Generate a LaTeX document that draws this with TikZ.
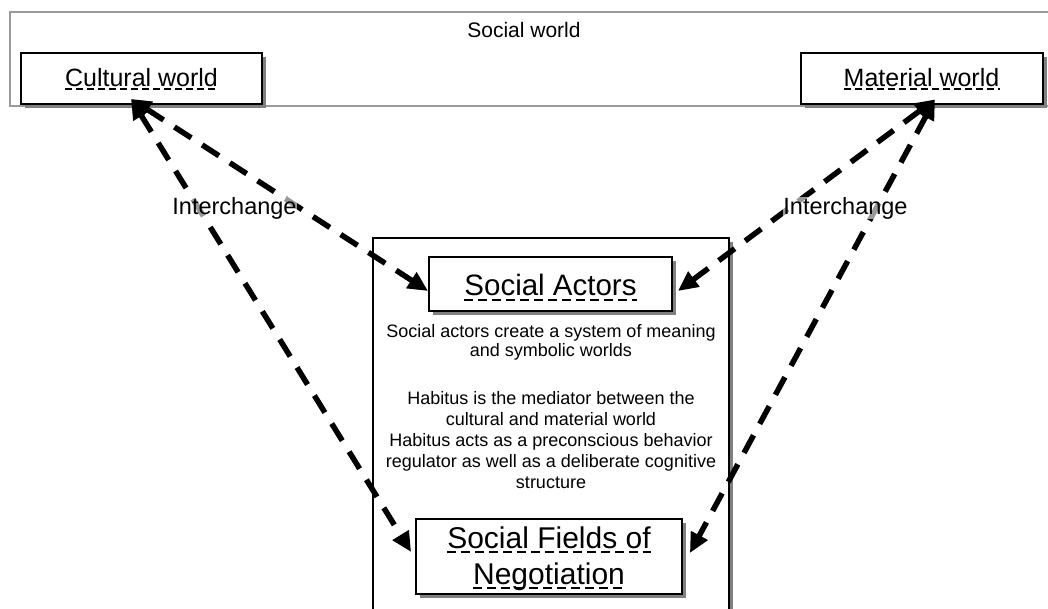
\documentclass[tikz,border=0pt]{standalone}
\usepackage{fontspec}
\setmainfont{Liberation Sans}
\usetikzlibrary{arrows.meta,shadows}
\definecolor{shadowgray}{HTML}{808080}
\definecolor{outergray}{HTML}{9A9A9A}
\begin{document}
\begin{tikzpicture}[x=1pt,y=-1pt,
  box/.style={draw=black,line width=1.8pt,fill=white,inner sep=0pt,
    drop shadow={shadow xshift=4pt,shadow yshift=-4pt,fill=shadowgray,opacity=1}},
  txt/.style={inner sep=0pt,anchor=base},
  ulsmall/.style={line width=1.5pt,dash pattern=on 7pt off 4pt},
  ulbig/.style={line width=1.7pt,dash pattern=on 9pt off 5pt},
  link/.style={line width=5.5pt,dash pattern=on 20pt off 13pt,
    {Triangle[length=20pt,width=18pt]}-{Triangle[length=20pt,width=18pt]}},
  f25/.style={font=\fontsize{25}{30}\selectfont},
  f30/.style={font=\fontsize{30}{36}\selectfont},
  f18/.style={font=\fontsize{18}{21}\selectfont},
  f21/.style={font=\fontsize{21}{25}\selectfont},
  f23/.style={font=\fontsize{23.5}{28}\selectfont}]
\useasboundingbox (0,0) rectangle (1048,608);
\clip (0,0) rectangle (1048,608);
% outer social world frame
\draw[draw=outergray,line width=1.6pt,fill=white] (10,12) rectangle (1062,106);
\node[txt,f21] (sw) at (524,37) {Social world};
% central frame
\fill[shadowgray] (729,242) rectangle (733,615);
\draw[line width=1.6pt] (373,615) -- (373,238) -- (729,238) -- (729,615);
% boxes
\node[box,minimum width=241pt,minimum height=51pt] (cw) at (141.5,78.5) {};
\node[box,minimum width=242pt,minimum height=51pt] (mw) at (922,78.5) {};
\node[box,minimum width=243pt,minimum height=54pt] (sa) at (550.5,284) {};
\node[box,minimum width=266pt,minimum height=75pt] (sf) at (549,556.5) {};
% box texts with dashed underlines
\node[txt,f25] (cwt) at (141.5,86) {Cultural world};
\draw[ulsmall] ([yshift=-3pt]cwt.base west) -- ([yshift=-3pt]cwt.base east);
\node[txt,f25] (mwt) at (921.5,86) {Material world};
\draw[ulsmall] ([yshift=-3pt]mwt.base west) -- ([yshift=-3pt]mwt.base east);
\node[txt,font=\fontsize{29.5}{34}\selectfont] (sat) at (550.5,295) {Social Actors};
\draw[ulbig] ([yshift=-5pt]sat.base west) -- ([yshift=-5pt]sat.base east);
\node[txt,f30] (sft1) at (549,548) {Social Fields of};
\draw[ulbig] ([yshift=-4pt]sft1.base west) -- ([yshift=-4pt]sft1.base east);
\node[txt,f30] (sft2) at (549,584) {Negotiation};
\draw[ulbig] ([yshift=-4pt]sft2.base west) -- ([yshift=-4pt]sft2.base east);
% central text
\node[txt,f18] (c1) at (551,337) {Social actors create a system of meaning};
\node[txt,f18] (c2) at (551,356) {and symbolic worlds};
\node[txt,f18] (c3) at (551,404) {Habitus is the mediator between the};
\node[txt,f18] (c4) at (551,425) {cultural and material world};
\node[txt,f18] (c5) at (551,446) {Habitus acts as a preconscious behavior};
\node[txt,f18] (c6) at (551,467) {regulator as well as a deliberate cognitive};
\node[txt,f18] (c7) at (551,488) {structure};
% connectors
\draw[link] ([xshift=-10.5pt,yshift=6pt]cw.south) -- ([yshift=-7pt]sa.west);
\draw[link] ([xshift=-10.5pt,yshift=6pt]cw.south) -- ([xshift=-4pt,yshift=4.5pt]sf.west);
\draw[link] ([xshift=13pt,yshift=5.5pt]mw.south) -- ([xshift=5pt,yshift=-7pt]sa.east);
\draw[link] ([xshift=13pt,yshift=5.5pt]mw.south) -- ([xshift=7pt,yshift=3.5pt]sf.east);
% labels
\node[txt,f23,fill=white,fill opacity=0.6,text opacity=1] (il) at (234.5,214) {Interchange};
\node[txt,f23,fill=white,fill opacity=0.6,text opacity=1] (ir) at (845.5,214) {Interchange};
\end{tikzpicture}
\end{document}
